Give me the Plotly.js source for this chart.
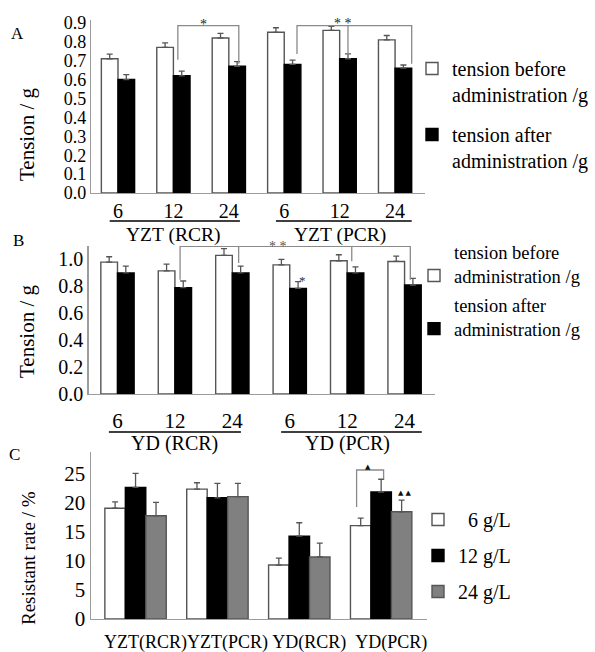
<!DOCTYPE html>
<html>
<head>
<meta charset="utf-8">
<script src="https://cdn.plot.ly/plotly-3.0.1.min.js"></script>
<style>html,body{margin:0;padding:0;background:#fff;}#chart{width:595px;height:652px;}</style>
</head>
<body>
<div id="chart"></div>
<script>
// ---------- data ----------
const doseTicks = ["6", "12", "24", "6", "12", "24"];
const groupsA = ["YZT (RCR)", "YZT (PCR)"];
const groupsB = ["YD (RCR)", "YD (PCR)"];
const tensionNames = ["tension before<br>administration /g", "tension after<br>administration /g"];

const beforeA    = [0.71, 0.77, 0.82, 0.85, 0.86, 0.81];
const beforeAErr = [0.025, 0.024, 0.024, 0.024, 0.021, 0.023];
const afterA     = [0.60, 0.62, 0.67, 0.68, 0.71, 0.66];
const afterAErr  = [0.026, 0.025, 0.025, 0.023, 0.026, 0.017];

const beforeB    = [0.98, 0.915, 1.03, 0.96, 0.99, 0.985];
const beforeBErr = [0.04, 0.05, 0.05, 0.04, 0.045, 0.04];
const afterB     = [0.90, 0.79, 0.90, 0.785, 0.90, 0.81];
const afterBErr  = [0.05, 0.05, 0.05, 0.05, 0.045, 0.05];

const catsC   = ["YZT(RCR)", "YZT(PCR)", "YD(RCR)", "YD(PCR)"];
const doseNamesC = ["\u00a0\u00a06 g/L", "12 g/L", "24 g/L"];
const c6      = [19.1, 22.4, 9.3, 16.1];
const c6Err   = [1.1, 1.1, 1.2, 1.3];
const c12     = [22.7, 20.9, 14.3, 21.9];
const c12Err  = [2.4, 2.5, 2.3, 2.2];
const c24     = [17.8, 21.1, 10.7, 18.5];
const c24Err  = [2.3, 2.3, 2.4, 2.0];

// ---------- helpers ----------
const W = 595, H = 652;
const px = v => v / W;            // horizontal pixel -> paper
const py = v => 1 - v / H;        // vertical pixel -> paper
const FONT = "Liberation Serif";
const idx = arr => arr.map((_, i) => i);
const zeros = arr => arr.map(() => 0);
const AX = "#9c9c9c", EDGE = "#555555";

function barTrace(xs, ys, errs, name, fill, offset, width, xa, ya, leg, grp) {
  return {
    type: "bar", x: xs, y: ys, xaxis: xa, yaxis: ya, name: name,
    offset: offset, width: width,
    marker: {color: fill, line: {color: fill === "#000000" ? "#000000" : EDGE, width: 1.4}},
    error_y: {type: "data", array: errs, arrayminus: zeros(errs), symmetric: false,
              visible: true, color: EDGE, thickness: 1.3, width: 3},
    legend: leg, legendgroup: grp, hoverinfo: "skip"
  };
}

const xA = idx(beforeA), xB = idx(beforeB), xC = idx(catsC);

const traces = [
  barTrace(xA, beforeA, beforeAErr, tensionNames[0], "#ffffff", -0.3, 0.3, "x", "y", "legend", "a1"),
  barTrace(xA, afterA, afterAErr, tensionNames[1], "#000000", 0, 0.3, "x", "y", "legend", "a2"),
  barTrace(xB, beforeB, beforeBErr, tensionNames[0], "#ffffff", -0.29, 0.29, "x2", "y2", "legend2", "b1"),
  barTrace(xB, afterB, afterBErr, tensionNames[1], "#000000", 0, 0.29, "x2", "y2", "legend2", "b2"),
  barTrace(xC, c6, c6Err, doseNamesC[0], "#ffffff", -0.375, 0.25, "x3", "y3", "legend3", "c1"),
  barTrace(xC, c12, c12Err, doseNamesC[1], "#000000", -0.125, 0.25, "x3", "y3", "legend3", "c2"),
  barTrace(xC, c24, c24Err, doseNamesC[2], "#808080", 0.125, 0.25, "x3", "y3", "legend3", "c3")
];

const tf = s => ({family: FONT, size: s, color: "#000"});
function xAxis(domain, range, vals, text, anchor, extra) {
  return Object.assign({domain: domain, range: range, tickvals: vals, ticktext: text, tickangle: 0,
    showline: true, linecolor: AX, linewidth: 1.2, ticks: "", showgrid: false, zeroline: false,
    tickfont: tf(21), anchor: anchor, fixedrange: true}, extra || {});
}
function yAxis(domain, range, dtick, fmt, anchor, size) {
  return {domain: domain, range: range, dtick: dtick, tick0: 0, tickformat: fmt,
    showline: true, linecolor: AX, linewidth: 1.2, ticks: "", showgrid: false, zeroline: false,
    tickfont: tf(size), anchor: anchor, fixedrange: true};
}

const txt = (text, x, y, size, extra) => Object.assign({text: text, x: x, y: y, xref: "paper", yref: "paper",
  showarrow: false, font: tf(size), xanchor: "center", yanchor: "middle"}, extra || {});

const annotations = [
  txt("A", px(17), py(33), 17),
  txt("B", px(18), py(240), 17),
  txt("C", px(14), py(454), 17),
  txt("Tension / g", px(27), py(134), 21, {textangle: -90}),
  txt("Tension / g", px(27), py(331), 21, {textangle: -90}),
  txt("Resistant rate / %", px(28), py(558), 19, {textangle: -90}),
  // group labels (centered on groups)
  Object.assign(txt(groupsA[0], 1, py(235), 19.5), {xref: "x"}),
  Object.assign(txt(groupsA[1], 4, py(235), 19.5), {xref: "x"}),
  Object.assign(txt(groupsB[0], 1, py(444), 20), {xref: "x2"}),
  Object.assign(txt(groupsB[1], 4, py(444), 20), {xref: "x2"}),
  // significance marks
  {text: "*", x: 1.55, y: 0.893, xref: "x", yref: "y", showarrow: false, font: {family: FONT, size: 14, color: "#222"}},
  {text: "* *", x: 4.06, y: 0.898, xref: "x", yref: "y", showarrow: false, font: {family: FONT, size: 14, color: "#222"}},
  {text: "* *", x: 2.79, y: 1.1, xref: "x2", yref: "y2", showarrow: false, font: {family: FONT, size: 14, color: "#555"}},
  {text: "*", x: 3.22, y: 0.84, xref: "x2", yref: "y2", showarrow: false, font: {family: FONT, size: 13, color: "#333"}},
  {text: "▲", x: 2.84, y: 26.3, xref: "x3", yref: "y3", showarrow: false, font: {family: "DejaVu Sans", size: 7, color: "#111"}},
  {text: "▲ ▲", x: 3.29, y: 21.8, xref: "x3", yref: "y3", showarrow: false, font: {family: "DejaVu Sans", size: 7, color: "#111"}}
];

const ln = {color: "#8a8a8a", width: 1.3};
const shapes = [
  // underlines under dose tick labels
  {type: "line", xref: "x", yref: "paper", x0: -0.15, x1: 2.2, y0: py(221), y1: py(221), line: {color: "#000", width: 1.3}},
  {type: "line", xref: "x", yref: "paper", x0: 2.85, x1: 5.3, y0: py(221), y1: py(221), line: {color: "#000", width: 1.3}},
  {type: "line", xref: "x2", yref: "paper", x0: -0.15, x1: 2.15, y0: py(432), y1: py(432), line: {color: "#000", width: 1.3}},
  {type: "line", xref: "x2", yref: "paper", x0: 2.85, x1: 5.3, y0: py(432), y1: py(432), line: {color: "#000", width: 1.3}},
  // brackets A
  {type: "path", xref: "x", yref: "y", path: "M1.08,0.705 L1.08,0.885 L2.18,0.885 L2.18,0.683", line: ln},
  {type: "path", xref: "x", yref: "y", path: "M3.23,0.735 L3.23,0.885 L5.3,0.885 L5.3,0.683", line: ln},
  {type: "path", xref: "x", yref: "y", path: "M4.15,0.885 L4.15,0.726", line: ln},
  // brackets B
  {type: "path", xref: "x2", yref: "y2", path: "M1.09,0.85 L1.09,1.098 L5.1,1.098 L5.1,0.85", line: ln},
  {type: "path", xref: "x2", yref: "y2", path: "M2.11,1.098 L2.11,0.974", line: ln},
  {type: "path", xref: "x2", yref: "y2", path: "M4.08,1.098 L4.08,0.987", line: ln},
  // bracket C
  {type: "path", xref: "x3", yref: "y3", path: "M2.7,19.3 L2.7,25.7 L3.03,25.7 L3.03,24.1", line: ln}
];

const legendBase = {xanchor: "left", yanchor: "top", bgcolor: "rgba(0,0,0,0)", borderwidth: 0,
  itemclick: false, itemdoubleclick: false};

const layout = {
  width: W, height: H, margin: {l: 0, r: 0, t: 0, b: 0},
  paper_bgcolor: "#ffffff", plot_bgcolor: "#ffffff",
  font: {family: FONT, color: "#000"},
  barmode: "overlay",
  showlegend: true,
  xaxis:  xAxis([px(91), px(425)], [-0.487, 5.54], xA, doseTicks, "y", {tickfont: tf(20)}),
  yaxis:  yAxis([py(193), py(20)], [0, 0.915], 0.1, ".1f", "x", 18),
  xaxis2: xAxis([px(88.5), px(435)], [-0.505, 5.53], xB, doseTicks, "y2", {ticklabelstandoff: 8}),
  yaxis2: yAxis([py(394), py(246)], [0, 1.1], 0.2, ".1f", "x2", 20),
  xaxis3: xAxis([px(90.7), px(427)], [-0.548, 3.56], xC, catsC, "y3",
                {ticklabelshift: 10, ticklabelstandoff: 6, tickfont: tf(18)}),
  yaxis3: yAxis([py(619), py(452)], [0, 28.8], 5, "d", "x3", 21),
  legend:  Object.assign({}, legendBase, {x: px(412), y: py(49), valign: "top", tracegroupgap: 11,
                          font: tf(20)}),
  legend2: Object.assign({}, legendBase, {x: px(414), y: py(233), valign: "bottom", tracegroupgap: 2,
                          font: tf(18.5)}),
  legend3: Object.assign({}, legendBase, {x: px(418), y: py(500), valign: "middle", tracegroupgap: 7,
                          font: tf(20)}),
  annotations: annotations,
  shapes: shapes
};

Plotly.newPlot("chart", traces, layout, {displayModeBar: false, staticPlot: true});
</script>
</body>
</html>
